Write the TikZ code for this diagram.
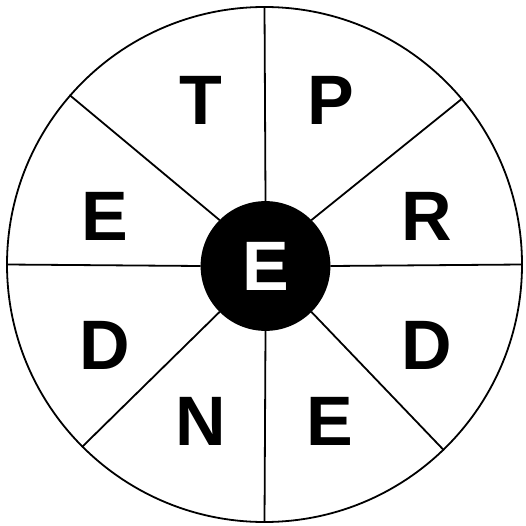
\documentclass[tikz,border=0pt]{standalone}
\usepackage{fontspec}
\setmainfont{Liberation Sans}
\usepackage{tikz}
\usetikzlibrary{positioning}

\begin{document}
\begin{tikzpicture}[
      x=1pt, y=-1pt,
      line width=1.8pt,
      rim/.style={circle, draw, minimum size=515pt, inner sep=0pt},
      hubdisc/.style={circle, draw, fill=black, text=white, minimum size=128pt, inner sep=0pt},
      letter/.style={font=\bfseries\fontsize{70}{70}\selectfont, inner sep=0pt}
    ]
      \useasboundingbox (0,0) rectangle (525,526);
      \node[rim] (wheel) at (264.5,264.5) {};
      \node[hubdisc, letter, minimum size=128pt] (hub) at (265.5,266) {E};

      % spokes
      \draw (wheel.90) -- (hub.90);
      \draw (wheel.270) -- (hub.270);
      \draw (wheel.0) -- (hub.0);
      \draw (wheel.180) -- (hub.180);
      \draw (wheel.40.5) -- (hub.45);
      \draw (wheel.139.2) -- (hub.135);
      \draw (wheel.225.4) -- (hub.225);
      \draw (wheel.314.8) -- (hub.315);

      % letters
      \node[letter] (segT) at (200.5,100.5) {T};
      \node[letter] (segP) at (330.5,100.5) {P};
      \node[letter] (segR) at (426.5,216) {R};
      \node[letter] (segDr) at (427,345) {D};
      \node[letter] (segEb) at (330,421.7) {E};
      \node[letter] (segN) at (200.5,421.7) {N};
      \node[letter] (segDl) at (104.7,345.3) {D};
      \node[letter] (segEl) at (104.5,216) {E};
    \end{tikzpicture}
\end{document}
